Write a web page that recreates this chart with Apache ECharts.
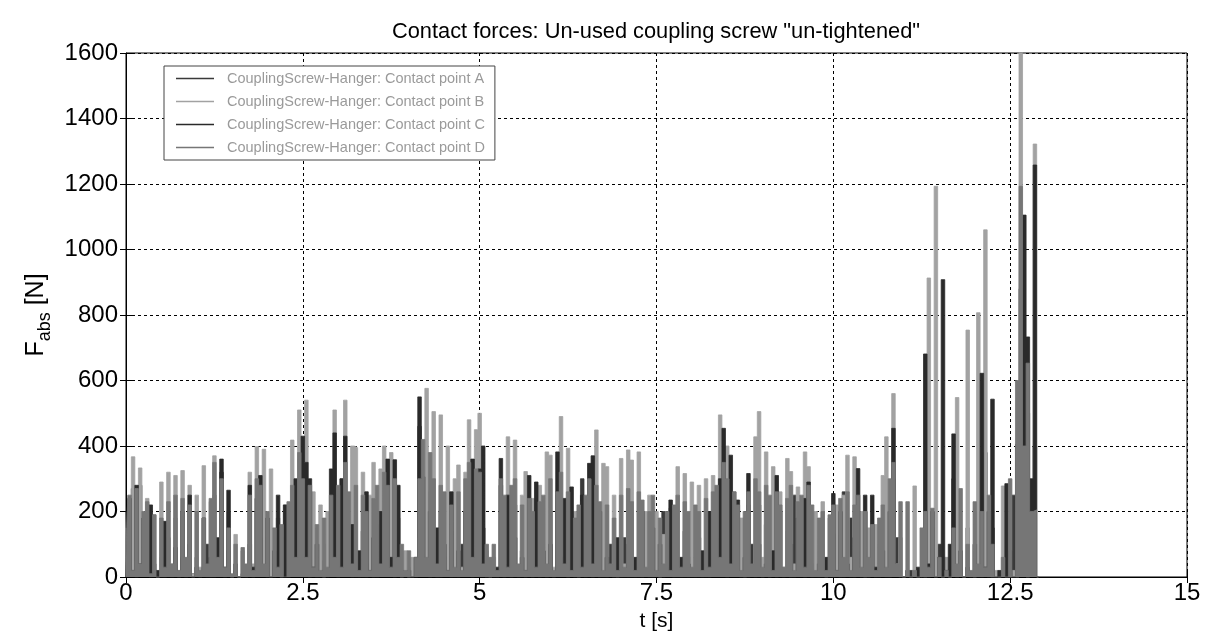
<!DOCTYPE html>
<html>
<head>
<meta charset="utf-8">
<script src="https://cdn.jsdelivr.net/npm/echarts@6/dist/echarts.min.js"></script>
<style>
html,body{margin:0;padding:0;background:#fff;}
#chart{width:1214px;height:644px;}
</style>
</head>
<body>
<div id="chart"></div>
<script>
// Sample step of the recorded signals (s)
const DT = 0.05;
const seriesNames = [
  'CouplingScrew-Hanger: Contact point A',
  'CouplingScrew-Hanger: Contact point B',
  'CouplingScrew-Hanger: Contact point C',
  'CouplingScrew-Hanger: Contact point D'
];
const xTicks = [0, 2.5, 5, 7.5, 10, 12.5, 15];
const yTicks = [0, 200, 400, 600, 800, 1000, 1200, 1400, 1600];

// Contact force |F| [N], one row per second
const pointA = [
  200,30,270,0,280,20,120,0,40,0,60,0,120,10,180,0,60,0,100,10,
  60,0,20,100,0,250,40,320,0,80,0,20,0,10,0,100,0,200,20,120,
  0,40,0,30,0,120,0,80,10,360,40,300,0,150,0,50,0,100,20,250,
  0,200,20,120,0,60,0,140,0,40,0,160,10,280,20,200,0,60,0,20,
  0,30,0,460,20,260,0,120,0,200,10,60,0,140,0,100,20,300,0,280,
  20,150,0,0,20,0,280,0,160,0,220,20,80,0,200,0,140,10,60,0,
  200,0,250,20,120,0,60,0,200,300,20,160,0,120,0,40,0,100,0,30,
  0,120,0,200,0,60,0,30,120,0,80,0,200,20,120,0,40,0,140,0,
  60,0,120,0,40,0,180,20,260,300,0,200,20,60,0,180,0,100,20,220,
  0,160,0,60,0,200,20,140,0,250,20,100,0,180,0,40,0,100,20,60,
  0,130,0,260,20,180,0,80,0,200,0,60,0,100,20,200,0,300,120,0,
  0,0,20,0,0,0,200,0,150,0,100,0,0,0,300,0,20,0,150,0,
  0,200,0,380,0,150,0,0,0,20,0,250,0,880,200,500,100,400,0
];
const pointB = [
  150,30,367,50,333,20,240,10,190,0,290,30,320,40,310,20,325,30,280,10,
  250,30,340,20,230,370,40,300,10,200,0,130,0,80,20,320,40,398,60,390,
  50,330,20,180,0,220,30,418,60,510,100,540,80,260,10,220,0,200,20,510,
  40,300,540,60,400,395,30,320,10,250,350,30,330,400,50,380,20,180,0,80,
  0,60,10,120,30,576,80,505,60,495,40,400,20,300,342,30,320,480,50,450,
  500,60,80,0,60,10,200,40,428,60,418,30,250,322,20,240,10,280,40,382,
  372,30,260,490,60,393,20,200,0,230,40,300,60,449,30,347,337,20,250,0,
  362,40,388,357,30,382,20,200,250,10,200,0,130,20,210,40,337,50,316,30,
  290,60,280,20,300,40,310,60,495,80,400,30,260,10,180,0,220,30,428,505,
  60,382,40,337,20,260,30,362,322,40,275,20,382,337,40,200,10,230,0,180,
  20,220,40,250,372,60,367,40,200,0,150,20,160,40,310,428,60,560,40,120,
  0,20,0,278,0,20,0,913,30,1193,20,0,60,0,40,548,20,0,754,10,
  0,807,20,1060,30,0,20,0,278,0,0,20,0,1700,200,0,100,1322,0
];
const pointC = [
  0,240,20,280,40,180,10,220,0,20,0,170,20,0,90,0,200,10,250,0,
  30,0,180,0,60,0,120,360,30,265,0,40,0,0,20,280,30,240,310,20,
  180,0,80,250,10,220,0,60,300,20,430,350,300,30,100,0,20,0,330,440,
  30,300,430,40,160,0,80,0,260,20,120,0,200,40,360,60,358,280,20,0,
  20,0,60,550,306,40,200,10,150,0,100,20,260,0,80,10,200,30,360,20,
  330,400,0,20,0,30,362,40,250,10,120,0,60,20,310,30,290,0,80,20,
  100,0,382,60,240,0,275,20,60,250,0,347,370,30,200,0,60,10,0,120,
  20,0,100,0,60,0,200,20,0,150,10,100,0,30,235,10,0,60,0,40,
  0,20,0,80,0,200,20,120,300,454,60,372,30,235,0,60,316,20,0,100,
  0,40,0,80,310,30,0,20,100,0,180,20,240,290,10,0,40,0,60,0,
  255,20,200,0,40,0,120,331,20,250,0,250,30,0,80,0,200,454,30,0,
  0,20,0,0,30,0,681,40,200,0,60,908,20,100,437,0,80,0,30,0,
  100,0,622,30,200,543,0,20,0,285,80,0,405,100,1105,733,300,1258,0
];
const pointD = [
  60,250,20,270,40,200,230,10,190,0,180,30,230,40,250,20,240,60,220,0,
  200,20,180,40,240,350,60,300,30,150,10,100,0,90,40,250,20,300,280,40,
  200,0,150,30,160,0,230,280,60,380,300,60,280,30,160,20,180,30,250,60,
  280,30,350,260,40,280,20,250,200,20,240,280,40,320,280,30,300,60,100,20,
  80,0,60,300,420,60,380,300,40,280,260,20,220,30,260,20,300,350,60,330,
  320,40,100,60,100,20,300,250,30,280,300,40,220,20,240,200,30,230,250,40,
  300,20,260,320,40,260,20,180,220,30,250,300,40,280,230,20,220,40,180,20,
  250,30,270,230,20,260,235,30,200,250,20,180,40,200,20,220,250,30,230,200,
  30,220,200,20,240,30,260,280,60,350,300,40,260,220,20,200,260,40,300,260,
  30,280,250,20,260,220,30,240,280,20,230,250,30,280,220,20,180,200,20,190,
  220,20,240,60,260,20,220,250,30,200,60,160,20,180,220,30,300,350,40,230,
  0,230,0,20,0,150,200,30,210,0,60,0,20,0,150,40,270,0,100,20,
  230,40,200,30,250,100,0,0,60,0,300,0,600,1193,400,653,200,205,0
];

const seriesValues = [pointA, pointB, pointC, pointD];
const seriesColors = ['#3a3a3a', '#a2a2a2', '#2a2a2a', '#767676'];

const FONT = '"Liberation Sans", Arial, Helvetica, sans-serif';

function toPairs(vals) {
  return vals.map((v, i) => [Math.round(i * DT * 100) / 100, v]);
}

const chart = echarts.init(document.getElementById('chart'), null, {renderer: 'canvas'});

const boxAxisX = {
  type: 'value', position: 'top',
  min: xTicks[0], max: xTicks[xTicks.length - 1], interval: 2.5,
  axisLine: {show: false},
  axisTick: {show: true, inside: true, length: 6, lineStyle: {color: '#000'}},
  axisLabel: {show: false},
  splitLine: {show: false}
};
const boxAxisY = {
  type: 'value', position: 'right',
  min: yTicks[0], max: yTicks[yTicks.length - 1], interval: 200,
  axisLine: {show: false},
  axisTick: {show: true, inside: true, length: 6, lineStyle: {color: '#000'}},
  axisLabel: {show: false},
  splitLine: {show: false}
};

const option = {
  animation: false,
  backgroundColor: '#fff',
  textStyle: {fontFamily: FONT},
  title: {
    text: 'Contact forces: Un-used coupling screw "un-tightened"',
    left: 656,
    textAlign: 'center',
    top: 21,
    padding: 0,
    textStyle: {fontFamily: FONT, fontSize: 21.8, fontWeight: 'normal', color: '#000'}
  },
  grid: {
    left: 126, right: 27, top: 53, bottom: 67,
    show: true, borderColor: '#000', borderWidth: 1, backgroundColor: 'transparent'
  },
  legend: {
    orient: 'vertical',
    left: 164,
    top: 66,
    padding: [5, 10, 5, 12],
    itemWidth: 38,
    itemHeight: 14,
    itemGap: 8,
    borderColor: '#444',
    borderWidth: 1,
    backgroundColor: '#fff',
    z: 10,
    data: seriesNames.map((n, i) => ({name: n, icon: 'path://M0,0 L40,0 L40,1.6 L0,1.6 Z', itemStyle: {color: seriesColors[i]}})),
    textStyle: {fontFamily: FONT, fontSize: 14.5, color: '#9a9a9a', lineHeight: 14, padding: [0, 0, 0, 8]}
  },
  xAxis: [{
    type: 'value',
    min: xTicks[0],
    max: xTicks[xTicks.length - 1],
    interval: 2.5,
    name: 't [s]',
    nameLocation: 'middle',
    nameGap: 34,
    nameTextStyle: {fontFamily: FONT, fontSize: 21, color: '#000'},
    axisLine: {show: true, lineStyle: {color: '#000', width: 1}},
    axisTick: {show: true, inside: true, length: 6, lineStyle: {color: '#000'}},
    axisLabel: {
      fontFamily: FONT, fontSize: 24, color: '#000', margin: 4,
      formatter: v => (xTicks.indexOf(v) >= 0 ? String(v) : '')
    },
    splitLine: {show: true, lineStyle: {color: '#000', type: [3, 3], width: 1}}
  }, boxAxisX],
  yAxis: [{
    type: 'value',
    min: yTicks[0],
    max: yTicks[yTicks.length - 1],
    interval: 200,
    name: '{f|F}{s|abs}{f| [N]}',
    nameLocation: 'middle',
    nameRotate: 90,
    nameGap: 72,
    nameTextStyle: {
      fontFamily: FONT,
      color: '#000',
      rich: {
        f: {fontFamily: FONT, fontSize: 25, color: '#000', lineHeight: 36, verticalAlign: 'middle'},
        s: {fontFamily: FONT, fontSize: 18, color: '#000', lineHeight: 18, verticalAlign: 'bottom'}
      }
    },
    axisLine: {show: true, lineStyle: {color: '#000', width: 1}},
    axisTick: {show: true, inside: true, length: 6, lineStyle: {color: '#000'}},
    axisLabel: {fontFamily: FONT, fontSize: 24, color: '#000', margin: 8, formatter: v => String(v)},
    splitLine: {show: true, lineStyle: {color: '#000', type: [3, 3], width: 1}}
  }, boxAxisY],
  series: seriesValues.map((vals, i) => ({
    name: seriesNames[i],
    type: 'line',
    step: 'middle',
    symbol: 'none',
    showSymbol: false,
    clip: true,
    xAxisIndex: 0,
    yAxisIndex: 0,
    lineStyle: {color: seriesColors[i], width: 0.8},
    areaStyle: {color: seriesColors[i], opacity: 1},
    itemStyle: {color: seriesColors[i]},
    data: toPairs(vals),
    z: 2 + i
  }))
};

chart.setOption(option);
</script>
</body>
</html>
